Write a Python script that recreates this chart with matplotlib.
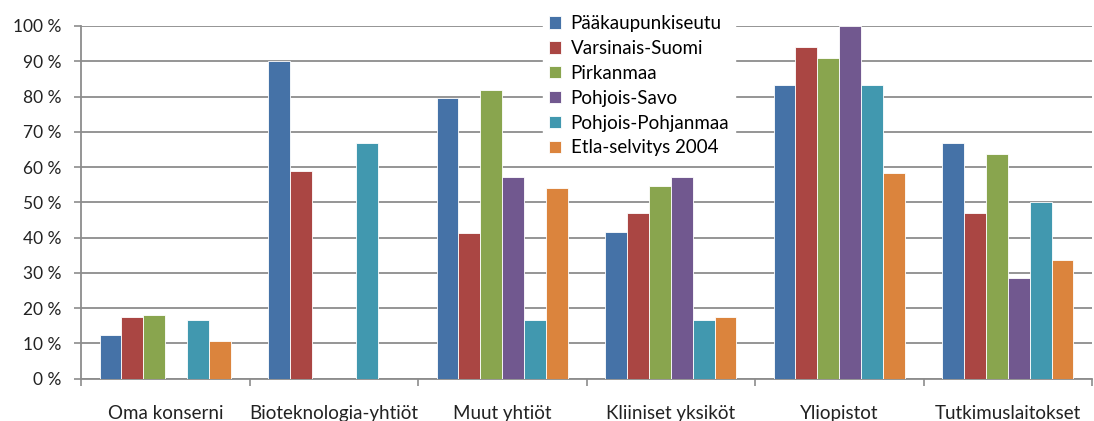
import matplotlib
matplotlib.use("Agg")
import matplotlib.pyplot as plt
import numpy as np

categories = ["Oma konserni", "Bioteknologia-yhtiöt", "Muut yhtiöt",
              "Kliiniset yksiköt", "Yliopistot", "Tutkimuslaitokset"]
series_names = ["Pääkaupunkiseutu", "Varsinais-Suomi", "Pirkanmaa",
                "Pohjois-Savo", "Pohjois-Pohjanmaa", "Etla-selvitys 2004"]
paakaupunkiseutu = [12.5, 90.0, 79.5, 41.7, 83.3, 66.7]
varsinais_suomi = [17.6, 58.8, 41.2, 47.1, 94.1, 47.1]
pirkanmaa = [18.2, 0.0, 81.8, 54.5, 90.9, 63.6]
pohjois_savo = [0.0, 0.0, 57.1, 57.1, 100.0, 28.6]
pohjois_pohjanmaa = [16.7, 66.7, 16.7, 16.7, 83.3, 50.0]
etla_2004 = [10.7, 0.0, 54.1, 17.6, 58.2, 33.7]
yticks = [0, 10, 20, 30, 40, 50, 60, 70, 80, 90, 100]
ytick_labels = [f"{v} %" for v in yticks]

colors = ["#4572A7", "#AA4643", "#89A54E", "#71588F", "#4198AF", "#DB843D"]
all_series = [paakaupunkiseutu, varsinais_suomi, pirkanmaa,
              pohjois_savo, pohjois_pohjanmaa, etla_2004]

plt.rcParams['font.family'] = ['Lato', 'DejaVu Sans']

fig = plt.figure(figsize=(10.94, 4.21), dpi=100)
ax = fig.add_axes([81/1094, 1 - 378.7/421, (1092-81)/1094, (378.7-26)/421])

x = np.arange(len(categories))
w = 0.13
n = len(all_series)
for i, (vals, c, name) in enumerate(zip(all_series, colors, series_names)):
    ax.bar(x + (i - (n - 1) / 2) * w, vals, width=w, color=c,
           edgecolor="white", linewidth=0.6, label=name, zorder=3)

ax.set_xlim(-0.5, len(categories) - 0.5)
ax.set_ylim(0, 100)
ax.set_yticks(yticks)
ax.set_yticklabels(ytick_labels, fontsize=12.5, color="#222222")
ax.yaxis.grid(True, color="#8c8c8c", linewidth=1.3, zorder=0)
ax.set_axisbelow(True)

ax.set_xticks(x)
ax.set_xticklabels(categories, fontsize=13.5, color="#222222")
ax.set_xticks(np.arange(len(categories) + 1) - 0.5, minor=True)
ax.tick_params(axis="x", which="major", length=0, pad=19)
ax.tick_params(axis="x", which="minor", length=5, width=1.2, color="#8c8c8c")
ax.tick_params(axis="y", length=5, width=1.2, color="#8c8c8c", pad=9)

for s in ["top", "right"]:
    ax.spines[s].set_visible(False)
for s in ["left", "bottom"]:
    ax.spines[s].set_color("#8c8c8c")
    ax.spines[s].set_linewidth(1.3)

leg = fig.legend(loc="upper left", bbox_to_anchor=(534/1094, 1.0),
                 fontsize=13.5, frameon=True, fancybox=False,
                 handlelength=0.65, handleheight=0.65, handletextpad=0.5,
                 labelspacing=0.42, borderpad=0.3)
leg.get_frame().set_facecolor("white")
leg.get_frame().set_edgecolor("white")
leg.get_frame().set_alpha(1)

fig.savefig("out.png", dpi=100)
